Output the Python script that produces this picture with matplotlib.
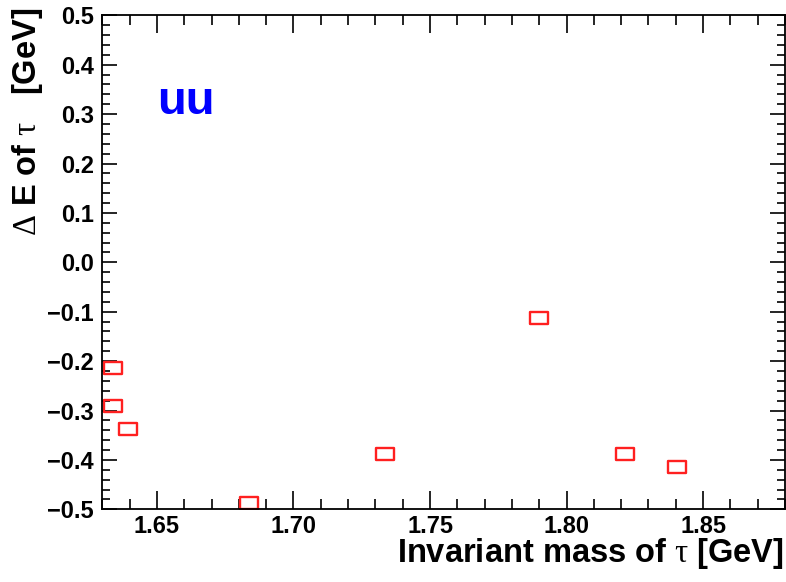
import matplotlib
matplotlib.use("Agg")
import matplotlib.pyplot as plt
from matplotlib.path import Path
from matplotlib.ticker import MultipleLocator, FuncFormatter

plt.rcParams['font.family'] = ['Liberation Sans', 'DejaVu Sans']
plt.rcParams['font.weight'] = 'bold'
plt.rcParams['mathtext.fontset'] = 'custom'
plt.rcParams['mathtext.rm'] = 'Liberation Serif:normal'
plt.rcParams['mathtext.it'] = 'Liberation Serif:normal'
plt.rcParams['mathtext.bf'] = 'Liberation Serif:normal'
plt.rcParams['axes.unicode_minus'] = True

mass = [1.6339, 1.6339, 1.6394, 1.6836, 1.7336, 1.7898, 1.8215, 1.8403]
delta_e = [-0.213, -0.290, -0.338, -0.488, -0.389, -0.113, -0.388, -0.414]

fig = plt.figure(figsize=(7.86, 5.82), dpi=100)
ax = fig.add_axes([0.1302, 0.1249, 0.8685, 0.8488])

rect = Path([(-1.5, -1), (1.5, -1), (1.5, 1), (-1.5, 1), (-1.5, -1)],
            [Path.MOVETO, Path.LINETO, Path.LINETO, Path.LINETO, Path.CLOSEPOLY])
ax.plot(mass, delta_e, linestyle='none', marker=rect, markersize=13.5,
        markerfacecolor='none', markeredgecolor='#ff2020', markeredgewidth=1.7)

ax.set_xlim(1.63, 1.88)
ax.set_ylim(-0.5, 0.5)
ax.xaxis.set_major_locator(MultipleLocator(0.05))
ax.xaxis.set_minor_locator(MultipleLocator(0.01))
ax.yaxis.set_major_locator(MultipleLocator(0.1))
ax.yaxis.set_minor_locator(MultipleLocator(0.02))
ax.xaxis.set_major_formatter(FuncFormatter(lambda v, p: f"{v:.2f}".replace('-', '\u2212')))
ax.yaxis.set_major_formatter(FuncFormatter(lambda v, p: ("0.0" if abs(v) < 1e-9 else f"{v:.1f}").replace('-', '\u2212')))
ax.tick_params(which='both', direction='in', top=True, right=True,
               labelsize=17, width=1.2, colors='black')
ax.tick_params(axis='x', which='major', length=13, pad=4)
ax.tick_params(axis='x', which='minor', length=7)
ax.tick_params(axis='y', which='major', length=11, pad=6)
ax.tick_params(axis='y', which='minor', length=6)
for lab in ax.get_xticklabels() + ax.get_yticklabels():
    lab.set_fontweight('bold')
for s in ax.spines.values():
    s.set_linewidth(1.3)

ax.set_xlabel(r"Invariant mass of $\mathrm{\tau}$ [GeV]", fontsize=23.5, fontweight='bold',
              ha='right')
ax.xaxis.set_label_coords(0.9985, -0.09, transform=ax.transAxes)
ax.xaxis.label.set_va('center')
ax.set_ylabel(r"$\mathrm{\Delta}$ E of $\mathrm{\tau}$   [GeV]", fontsize=23.5, fontweight='bold',
              ha='right')
ax.yaxis.set_label_coords(-0.110, 1.015, transform=ax.transAxes)
ax.yaxis.label.set_va('center')

ax.text(1.6500, 0.30, "uu", color='#0000ff', fontsize=34, fontweight='bold',
        ha='left', va='baseline')

fig.savefig("out.png", dpi=100)
